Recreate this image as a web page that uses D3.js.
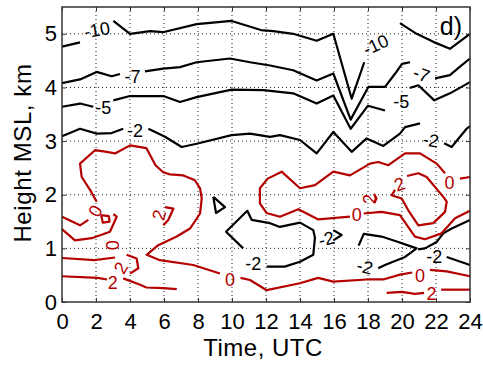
<!DOCTYPE html>
<html>
<head>
<meta charset="utf-8">
<script src="https://cdn.jsdelivr.net/npm/d3@7"></script>
<style>
  body { margin: 0; background: #fff; }
  text { font-family: "Liberation Sans", Arial, sans-serif; }
</style>
</head>
<body>
<svg id="chart" width="483" height="366"></svg>
<script>
// axis ticks
const timeTicks = [0, 2, 4, 6, 8, 10, 12, 14, 16, 18, 20, 22, 24];
const heightTicks = [0, 1, 2, 3, 4, 5];

// contour lines, [time UTC, height km], split where a label sits
const levelM10 = [
  [[0, 4.76], [1.06, 4.84]],
  [[3.02, 5.24], [4.0, 5.0], [5.18, 5.05], [5.94, 5.03], [7.92, 5.18], [9.98, 5.24], [11.7, 5.07], [12.43, 5.05], [13.6, 5.0], [14.98, 4.87], [15.96, 5.0], [17.04, 3.79], [17.78, 4.47]],
  [[19.88, 5.2], [20.86, 5.0], [21.84, 4.85], [22.82, 4.72], [24, 5.0]]
];
const levelM7 = [
  [[0, 4.08], [1.06, 4.15], [2.04, 4.29], [2.92, 4.21], [3.41, 4.25]],
  [[4.88, 4.3], [5.96, 4.35], [6.94, 4.38], [7.92, 4.47], [9.88, 4.54], [11.06, 4.47], [12.24, 4.41], [13.6, 4.32], [14.98, 4.13], [15.96, 4.26], [16.98, 3.4], [18.02, 4.01], [19.0, 4.01], [19.6, 4.26], [20.0, 4.44], [20.47, 4.47]],
  [[21.94, 4.17], [22.82, 4.23], [23.5, 4.41], [24, 4.54]]
];
const levelM5 = [
  [[0, 3.64], [1.06, 3.7], [1.84, 3.64]],
  [[3.02, 3.76], [4.0, 3.84], [5.96, 3.84], [6.94, 3.73], [7.92, 3.82], [9.98, 3.96], [11.84, 3.95], [13.6, 3.89], [14.98, 3.7], [15.96, 3.85], [16.98, 3.23], [18.0, 3.66], [19.0, 3.57]],
  [[20.45, 3.99], [20.96, 4.04], [21.9, 3.76], [22.82, 3.89], [24, 4.1]]
];
const levelM2 = [
  [[0, 3.09], [1.06, 3.23], [2.04, 3.14], [2.92, 3.15], [3.6, 3.23]],
  [[5.08, 3.23], [6.06, 3.08], [7.04, 2.89], [7.92, 2.95], [9.98, 3.11], [11.06, 3.14], [12.24, 3.08], [12.82, 3.11], [14.0, 3.02], [14.98, 2.77], [15.96, 3.17], [17.04, 2.8], [17.92, 3.05], [18.9, 2.91], [19.88, 3.14], [20.18, 3.26], [21.06, 3.33]],
  [[22.48, 2.96], [22.92, 2.89], [23.8, 3.23], [24, 3.28]],
  [[8.9, 1.96], [9.59, 1.77], [9.06, 1.66], [8.9, 1.96]],
  [[10.66, 1.0], [9.65, 1.31], [10.9, 1.7], [11.16, 1.53], [12.24, 1.47], [12.82, 1.4], [14.0, 1.48], [14.78, 1.34], [14.88, 1.2], [14.78, 0.88], [14.0, 0.75], [13.1, 0.66], [12.04, 0.66]],
  [[15.96, 1.34], [16.45, 1.25], [15.96, 1.15]],
  [[17.45, 1.05], [17.75, 1.27], [18.8, 1.22], [19.78, 1.12], [20.86, 1.0], [20.18, 0.84], [19.0, 0.69], [18.6, 0.63]],
  [[20.95, 0.98], [21.35, 1.0], [22.04, 1.12], [22.43, 1.28], [22.92, 1.37], [24, 1.53]],
  [[22.63, 0.84], [24, 0.69]]
];
const level0 = [
  [[2.04, 1.87], [1.65, 2.09], [1.16, 2.33], [1.06, 2.58], [1.94, 2.83], [2.63, 2.8], [3.12, 2.77], [4.0, 2.92], [4.96, 2.87], [5.5, 2.55], [5.95, 2.42], [6.35, 2.38], [7.14, 2.36], [7.82, 2.27], [8.12, 2.12], [8.22, 1.93], [8.12, 1.65], [7.53, 1.37], [6.75, 1.22], [5.66, 1.06], [4.98, 0.88], [5.76, 0.78], [7.72, 0.69], [9.29, 0.53]],
  [[10.5, 0.45], [11.06, 0.41], [12.04, 0.22], [13.99, 0.35], [15.07, 0.45], [15.95, 0.38], [17.92, 0.42], [18.9, 0.42], [19.88, 0.51], [20.6, 0.55]],
  [[21.64, 0.6], [22.63, 0.57], [24, 0.48]],
  [[24, 2.33], [23.41, 2.3]],
  [[22.53, 2.4], [22.04, 2.58], [21.06, 2.77], [20.18, 2.77], [19.2, 2.55], [18.6, 2.61], [18.12, 2.58], [16.94, 2.36], [15.96, 2.43], [14.88, 2.18], [14.0, 2.12], [12.92, 2.43], [12.1, 2.3], [11.64, 2.12], [11.64, 1.84], [12.03, 1.66], [12.82, 1.59], [13.9, 1.73], [15.08, 1.54], [16.94, 1.59]],
  [[17.75, 1.65], [18.8, 1.68], [19.88, 1.62], [20.76, 1.22], [21.35, 1.17], [22.33, 1.28], [23.12, 1.56], [24, 1.7]],
  [[0, 1.59], [1.06, 1.43], [1.55, 1.53]],
  [[0, 1.36], [0.76, 1.15], [1.75, 1.19], [2.82, 1.31], [3.22, 1.59], [3.02, 1.64]],
  [[2.3, 1.62], [2.75, 1.6], [2.8, 1.5], [2.4, 1.48], [2.3, 1.62]]
];
const level2 = [
  [[20.3, 2.35], [20.96, 2.4], [21.45, 2.33], [22.43, 1.96], [22.63, 1.87], [22.53, 1.68], [21.84, 1.47], [20.96, 1.43], [20.37, 1.71], [19.98, 1.93], [19.39, 1.99], [19.59, 2.09]],
  [[6.06, 1.77], [6.55, 1.74], [6.25, 1.53], [5.96, 1.43]],
  [[18.35, 2.02], [18.5, 1.93], [18.35, 1.84]],
  [[19.1, 0.17], [20.0, 0.19], [20.76, 0.15], [21.3, 0.17]],
  [[22.3, 0.23], [24, 0.23]],
  [[0, 0.48], [2.1, 0.45], [2.65, 0.42]],
  [[3.6, 0.44], [4.6, 0.32], [4.96, 0.27], [5.95, 0.26], [6.75, 0.24]],
  [[0, 0.82], [1.9, 0.78], [3.12, 0.83]],
  [[3.8, 0.88], [4.39, 0.81], [4.49, 0.63], [4.0, 0.53]]
];

// contour labels: time, height, value
const labelPos = [
  [2.05, 5.08, -10], [18.45, 4.8, -10],
  [4.15, 4.2, -7], [21.15, 4.25, -7],
  [2.43, 3.62, -5], [19.95, 3.74, -5],
  [4.3, 3.2, -2], [21.7, 3.02, -2], [11.25, 0.72, -2], [15.55, 1.18, -2], [17.82, 0.66, -2], [21.9, 0.85, -2],
  [1.95, 1.7, 0], [2.95, 1.06, 0], [9.88, 0.42, 0], [17.34, 1.64, 0], [22.8, 2.22, 0], [21.06, 0.5, 0],
  [3.45, 0.64, 2], [2.98, 0.36, 2], [5.7, 1.62, 2], [18.1, 1.92, 2], [19.85, 2.2, 2], [21.74, 0.15, 2]
];
const labelAngle = [-10, -25, 0, 20, 0, 0, 0, 10, 0, -15, 15, 0, -60, 90, 0, 0, 0, 0, -60, 0, -75, -90, -20, 0];

const margin = {top: 7, right: 13, bottom: 64, left: 62};
const width = 483 - margin.left - margin.right;
const height = 366 - margin.top - margin.bottom;
const red = "#b40000";

const svg = d3.select("#chart");
const g = svg.append("g")
  .attr("transform", "translate(" + margin.left + "," + margin.top + ")");

const x = d3.scaleLinear().domain([0, 24]).range([0, width]);
const y = d3.scaleLinear().domain([0, 5.5]).range([height, 0]);

// dotted grid
g.append("g")
  .selectAll("line")
  .data(timeTicks.slice(1, -1))
  .join("line")
  .attr("x1", d => x(d)).attr("x2", d => x(d))
  .attr("y1", 0).attr("y2", height)
  .attr("stroke", "#222").attr("stroke-width", 1).attr("stroke-dasharray", "1,3");
g.append("g")
  .selectAll("line")
  .data(heightTicks.slice(1))
  .join("line")
  .attr("x1", 0).attr("x2", width)
  .attr("y1", d => y(d)).attr("y2", d => y(d))
  .attr("stroke", "#222").attr("stroke-width", 1).attr("stroke-dasharray", "1,3");

// contour lines
const line = d3.line().x(d => x(d[0])).y(d => y(d[1]));
const levels = [[levelM10, "#000"], [levelM7, "#000"], [levelM5, "#000"], [levelM2, "#000"], [level0, red], [level2, red]];
levels.forEach(([segs, color]) => {
  g.append("g")
    .selectAll("path")
    .data(segs)
    .join("path")
    .attr("d", line)
    .attr("fill", "none")
    .attr("stroke", color)
    .attr("stroke-width", 2.2)
    .attr("stroke-linejoin", "round");
});

// contour labels
g.append("g")
  .selectAll("text")
  .data(labelPos)
  .join("text")
  .attr("transform", (d, i) => "translate(" + x(d[0]) + "," + y(d[1]) + ") rotate(" + labelAngle[i] + ")")
  .attr("text-anchor", "middle")
  .attr("dy", "0.36em")
  .attr("font-size", 18)
  .attr("fill", d => d[2] < 0 ? "#000" : red)
  .text(d => d[2]);

// axes with inward ticks
const xAxis = g.append("g")
  .attr("transform", "translate(0," + height + ")")
  .call(d3.axisBottom(x).tickValues(timeTicks).tickSizeInner(-4).tickSizeOuter(0).tickPadding(11));
const yAxis = g.append("g")
  .call(d3.axisLeft(y).tickValues(heightTicks).tickFormat(d3.format("d")).tickSizeInner(-4).tickSizeOuter(0).tickPadding(5));
g.append("g")
  .call(d3.axisTop(x).tickValues(timeTicks).tickSizeInner(-4).tickSizeOuter(0).tickFormat(""));
g.append("g")
  .attr("transform", "translate(" + width + ",0)")
  .call(d3.axisRight(y).tickValues(heightTicks).tickSizeInner(-4).tickSizeOuter(0).tickFormat(""));

g.selectAll(".domain").remove();
g.selectAll(".tick line").attr("stroke", "#333");
[xAxis, yAxis].forEach(a => a.selectAll("text")
  .attr("font-size", 22)
  .attr("font-family", "'Liberation Sans', Arial, sans-serif")
  .attr("fill", "#000"));

// frame
g.append("rect")
  .attr("width", width).attr("height", height)
  .attr("fill", "none").attr("stroke", "#333").attr("stroke-width", 1.5);

// titles
svg.append("text")
  .attr("x", 263)
  .attr("y", 356)
  .attr("text-anchor", "middle")
  .attr("font-size", 24)
  .attr("letter-spacing", 0.5)
  .text("Time, UTC");
svg.append("text")
  .attr("transform", "translate(31,153) rotate(-90)")
  .attr("text-anchor", "middle")
  .attr("font-size", 24)
  .attr("letter-spacing", 0.6)
  .text("Height MSL, km");
svg.append("text")
  .attr("x", 462).attr("y", 35)
  .attr("text-anchor", "end")
  .attr("font-family", "'Liberation Serif', 'Times New Roman', serif")
  .attr("font-size", 25)
  .text("d)");
</script>
</body>
</html>
